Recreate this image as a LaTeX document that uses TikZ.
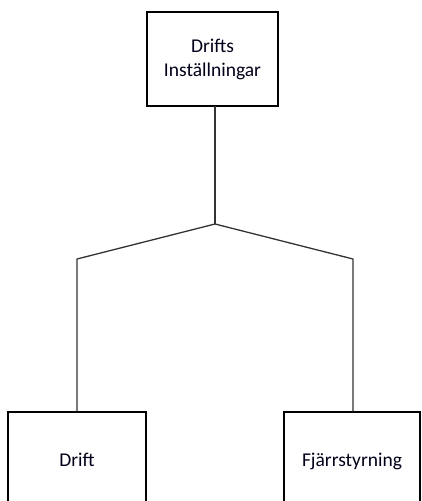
\documentclass[tikz,border=0pt]{standalone}
\usepackage{fontspec}
\setmainfont{Carlito}
\begin{document}
\begin{tikzpicture}[x=1pt,y=-1pt,
  box/.style={draw=black,line width=1.4pt,fill=white,inner sep=0pt,
    font=\fontsize{19.5}{24}\selectfont,text=black!90!blue},
  link/.style={draw=black!80,line width=1.3pt}]
  \useasboundingbox (0,0) rectangle (422,501);
  % top box
  \node[box,minimum width=131,minimum height=94,align=center] (top) at (212.5,59)
    {Drifts\\Inställningar};
  % bottom boxes (run past the lower edge)
  \node[box,minimum width=138,minimum height=96,text height=14,text depth=2] (drift) at (77,460) {Drift};
  \node[box,minimum width=136,minimum height=96,text height=14,text depth=2] (fjarr) at (352,460) {Fjärrstyrning};
  % branching points
  \coordinate (topout) at (215,106);
  \coordinate (apex) at (215,224);
  \coordinate (lbend) at (77,259);
  \coordinate (rbend) at (353,259);
  \draw[link] (topout) -- (apex);
  \draw[link,line join=round] (apex) -- (lbend) -- (drift.north);
  \draw[link,line join=round] (apex) -- (rbend) -- (rbend |- fjarr.north);
\end{tikzpicture}
\end{document}
